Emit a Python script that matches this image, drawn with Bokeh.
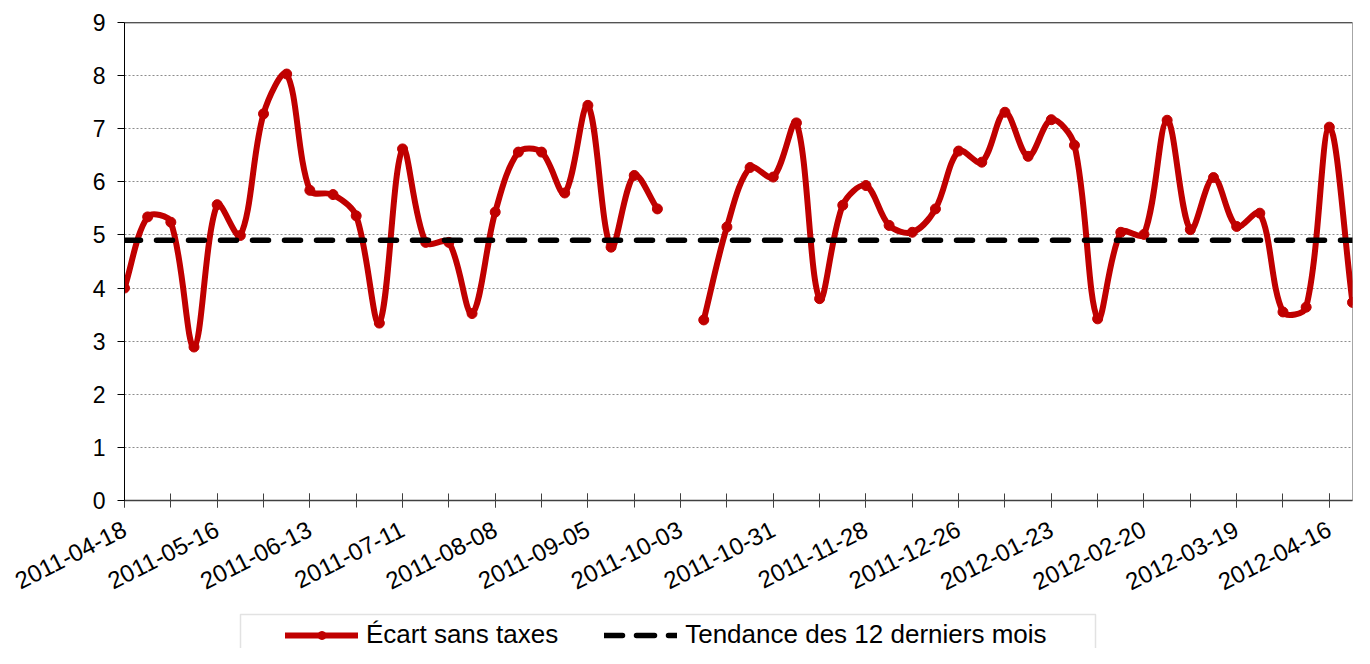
import numpy as np
from bokeh.plotting import figure
from bokeh.layouts import column
from bokeh.models import (Range1d, FixedTicker, Legend, LegendItem, Span,
                          BoxAnnotation, ColumnDataSource)
from bokeh.embed import file_html
from bokeh.resources import INLINE

dates = ["2011-04-18", "2011-04-25", "2011-05-02", "2011-05-09", "2011-05-16", "2011-05-23",
         "2011-05-30", "2011-06-06", "2011-06-13", "2011-06-20", "2011-06-27", "2011-07-04",
         "2011-07-11", "2011-07-18", "2011-07-25", "2011-08-01", "2011-08-08", "2011-08-15",
         "2011-08-22", "2011-08-29", "2011-09-05", "2011-09-12", "2011-09-19", "2011-09-26",
         "2011-10-03", "2011-10-10", "2011-10-17", "2011-10-24", "2011-10-31", "2011-11-07",
         "2011-11-14", "2011-11-21", "2011-11-28", "2011-12-05", "2011-12-12", "2011-12-19",
         "2011-12-26", "2012-01-02", "2012-01-09", "2012-01-16", "2012-01-23", "2012-01-30",
         "2012-02-06", "2012-02-13", "2012-02-20", "2012-02-27", "2012-03-05", "2012-03-12",
         "2012-03-19", "2012-03-26", "2012-04-02", "2012-04-09", "2012-04-16", "2012-04-23"]

ecart = [4.00, 5.34, 5.24, 2.89, 5.57, 4.99, 7.28, 8.03, 5.84, 5.76, 5.36, 3.34,
         6.62, 4.86, 4.86, 3.52, 5.43, 6.56, 6.56, 5.79, 7.44, 4.77, 6.12, 5.49,
         None, 3.40, 5.15, 6.27, 6.09, 7.11, 3.80, 5.56, 5.93, 5.18, 5.05, 5.49,
         6.58, 6.37, 7.31, 6.48, 7.17, 6.69, 3.42, 5.05, 5.01, 7.16, 5.10, 6.08,
         5.16, 5.41, 3.55, 3.64, 7.03, 3.73]

tendance = [4.90, 4.90, 4.90, 4.90, 4.90, 4.90, 4.90, 4.90, 4.90, 4.90, 4.90, 4.90,
            4.90, 4.90, 4.90, 4.90, 4.90, 4.90, 4.90, 4.90, 4.90, 4.90, 4.90, 4.90,
            4.90, 4.90, 4.90, 4.90, 4.90, 4.90, 4.90, 4.90, 4.90, 4.90, 4.90, 4.90,
            4.90, 4.90, 4.90, 4.90, 4.90, 4.90, 4.90, 4.90, 4.90, 4.90, 4.90, 4.90,
            4.90, 4.90, 4.90, 4.90, 4.90, 4.90]

x_tick_labels = ["2011-04-18", "2011-05-16", "2011-06-13", "2011-07-11", "2011-08-08",
                 "2011-09-05", "2011-10-03", "2011-10-31", "2011-11-28", "2011-12-26",
                 "2012-01-23", "2012-02-20", "2012-03-19", "2012-04-16"]
y_ticks = [0, 1, 2, 3, 4, 5, 6, 7, 8, 9]

series_names = ["Écart sans taxes", "Tendance des 12 derniers mois"]

RED = "#C00000"
FONT = "Liberation Sans"

W = 1354
H_MAIN, H_LEG = 604, 44
LEFT, TOP, RIGHT, BOTTOM = 124, 22, 2, 104

n = len(dates)
xs = np.arange(n, dtype=float)
ys = np.array([np.nan if v is None else v for v in ecart], dtype=float)

# pixel scale factors (Excel-like smoothing is computed in screen space)
sxp = (W - LEFT - RIGHT) / (n - 1)
syp = (H_MAIN - TOP - BOTTOM) / 9.0


def dist(i, j):
    return np.hypot((xs[j] - xs[i]) * sxp, (ys[j] - ys[i]) * syp)


bz = dict(x0=[], y0=[], x1=[], y1=[], cx0=[], cy0=[], cx1=[], cy1=[])
for i in range(n - 1):
    j = i + 1
    if np.isnan(ys[i]) or np.isnan(ys[j]):
        continue
    a = i - 1 if (i - 1 >= 0 and not np.isnan(ys[i - 1])) else i
    d = j + 1 if (j + 1 < n and not np.isnan(ys[j + 1])) else j
    d01, d12, d23 = dist(a, i), dist(i, j), dist(j, d)
    f1 = d12 / (d01 + d12) / 3.0 if d01 + d12 > 0 else 0.0
    f2 = d12 / (d12 + d23) / 3.0 if d12 + d23 > 0 else 0.0
    bz["x0"].append(xs[i]); bz["y0"].append(ys[i])
    bz["x1"].append(xs[j]); bz["y1"].append(ys[j])
    bz["cx0"].append(xs[i] + (xs[j] - xs[a]) * f1)
    bz["cy0"].append(ys[i] + (ys[j] - ys[a]) * f1)
    bz["cx1"].append(xs[j] - (xs[d] - xs[i]) * f2)
    bz["cy1"].append(ys[j] - (ys[d] - ys[i]) * f2)

p = figure(width=W, height=H_MAIN,
           x_range=Range1d(0, n - 1), y_range=Range1d(0, 9),
           output_backend="svg", toolbar_location=None,
           min_border_left=LEFT, min_border_top=TOP, min_border_right=RIGHT,
           min_border_bottom=BOTTOM)
p.background_fill_color = "white"
p.border_fill_color = "white"
p.outline_line_color = "#a6a6a6"
p.outline_line_width = 1

# grid
p.xgrid.grid_line_color = None
p.ygrid.ticker = FixedTicker(ticks=y_ticks)
p.ygrid.grid_line_color = "#8c8c8c"
p.ygrid.grid_line_dash = "2 2"
p.ygrid.grid_line_width = 1

# y axis
p.yaxis.ticker = FixedTicker(ticks=y_ticks)
p.yaxis.axis_line_color = "black"
p.yaxis.axis_line_width = 1
p.yaxis.major_tick_line_color = "black"
p.yaxis.major_tick_in = 0
p.yaxis.major_tick_out = 7
p.yaxis.minor_tick_line_color = None
p.yaxis.major_label_text_font = FONT
p.yaxis.major_label_text_font_size = "23px"
p.yaxis.major_label_text_color = "black"
p.yaxis.major_label_standoff = 12

# x axis
label_pos = [dates.index(l) for l in x_tick_labels]
minor_pos = [i for i in range(0, n, 2)]
p.xaxis.ticker = FixedTicker(ticks=label_pos, minor_ticks=minor_pos)
p.xaxis.major_label_overrides = {i: l for i, l in zip(label_pos, x_tick_labels)}
p.xaxis.axis_line_color = "#404040"
p.xaxis.axis_line_width = 1.5
p.xaxis.major_tick_line_color = "#404040"
p.xaxis.minor_tick_line_color = "#404040"
p.xaxis.major_tick_in = 7
p.xaxis.major_tick_out = 7
p.xaxis.minor_tick_in = 7
p.xaxis.minor_tick_out = 7
p.xaxis.major_label_orientation = 0.47
p.xaxis.major_label_text_font = FONT
p.xaxis.major_label_text_font_size = "24px"
p.xaxis.major_label_text_color = "black"
p.xaxis.major_label_standoff = 20

# top border black
p.add_layout(Span(location=9, dimension="width", line_color="black", line_width=1.5))

# red smoothed series
p.bezier(x0="x0", y0="y0", x1="x1", y1="y1", cx0="cx0", cy0="cy0",
         cx1="cx1", cy1="cy1", source=ColumnDataSource(bz),
         line_color=RED, line_width=6, line_cap="round")
src = ColumnDataSource(dict(x=xs, y=ys, t=tendance))
p.scatter(x="x", y="y", source=src, size=10, fill_color=RED, line_color=RED,
          marker="circle")
p.line(x="x", y="t", source=src, line_color="black", line_width=5.5,
       line_dash="16 16", line_cap="round")

# ---- legend strip (a second figure; its frame is aligned with the main frame) ----
q = figure(width=W, height=H_LEG, x_range=Range1d(0, n - 1), y_range=Range1d(20, 21),
           output_backend="svg", toolbar_location=None,
           x_axis_type=None, y_axis_type=None,
           min_border_left=0, min_border_right=0, min_border_top=0, min_border_bottom=0)
q.outline_line_color = None
q.background_fill_color = "white"
q.border_fill_color = "white"
q.xgrid.grid_line_color = None
q.ygrid.grid_line_color = None

# legend proxies share the series data (out of the strip's y-range, so unseen)
lr = q.line(x="x", y="y", source=src, line_color=RED, line_width=6, line_cap="round")
lm = q.scatter(x="x", y="y", source=src, size=10, fill_color=RED, line_color=RED,
               marker="circle")
lt = q.line(x="x", y="t", source=src, line_color="black", line_width=5.5,
            line_dash="18 14", line_cap="round")

# legend box (its bottom edge runs off the page, as in the original)
q.add_layout(BoxAnnotation(left=116, right=971, top=34, bottom=-30,
                           left_units="screen", right_units="screen",
                           top_units="screen", bottom_units="screen",
                           fill_alpha=0, line_color="#a0a0a0", line_width=1.5))

legend = Legend(items=[LegendItem(label=series_names[0], renderers=[lr, lm]),
                       LegendItem(label=series_names[1], renderers=[lt])],
                orientation="horizontal", location=(161, -2),
                label_text_font=FONT, label_text_font_size="26px",
                label_text_color="black",
                glyph_width=73, glyph_height=20, label_standoff=8, spacing=46,
                padding=0, margin=0, border_line_color=None,
                background_fill_alpha=0)
q.add_layout(legend)

layout = column(p, q, spacing=0)
open("out.html", "w").write(file_html(layout, INLINE))
